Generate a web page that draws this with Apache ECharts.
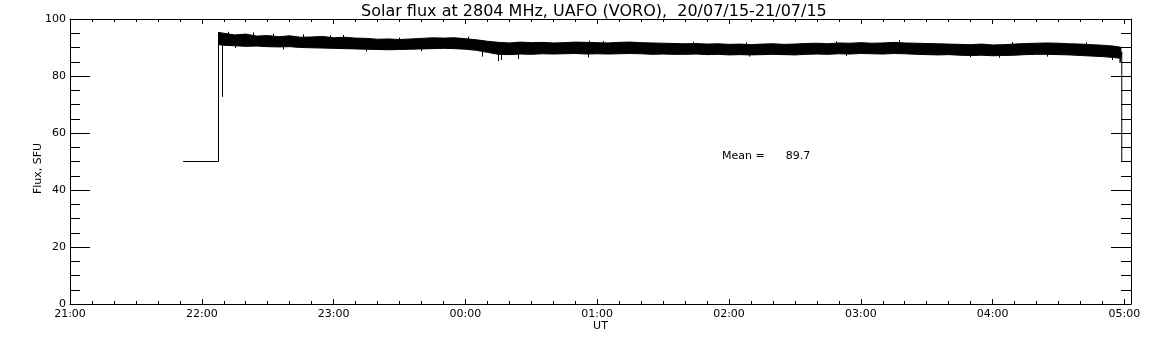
<!DOCTYPE html>
<html>
<head>
<meta charset="utf-8">
<script src="https://cdn.jsdelivr.net/npm/echarts@6/dist/echarts.min.js"></script>
<style>
  html, body { margin: 0; padding: 0; background: #fff; }
  #chart { width: 1152px; height: 345px; }
</style>
</head>
<body>
<div id="chart"></div>
<script>
// time is minutes after 21:00 UT
var traceTimes = [51.5, 67.6, 67.6];
var traceFlux  = [50, 50, 95.3];

var endTimes = [478.0, 478.0, 478.8, 478.8];
var endFlux  = [88.0, 84.7, 88.5, 50];

var bandTimes = [67.6, 70, 75, 80, 85, 90, 95, 100, 105, 110, 115, 120, 125, 130, 135, 140,
    145, 150, 155, 160, 165, 170, 175, 180, 185, 190, 195, 200, 205, 210, 215, 220, 225,
    230, 235, 240, 245, 250, 255, 260, 265, 270, 275, 280, 285, 290, 295, 300, 305, 310,
    315, 320, 325, 330, 335, 340, 345, 350, 355, 360, 365, 370, 375, 380, 385, 390, 395,
    400, 405, 410, 415, 420, 425, 430, 435, 440, 445, 450, 455, 460, 465, 470, 475, 478.4];
var bandUpper = [95.3, 95.0, 94.4, 94.7, 94.0, 94.2, 93.8, 94.1, 93.6, 93.7, 93.9, 93.4, 93.6,
    93.3, 93.2, 92.9, 93.0, 92.8, 93.0, 93.2, 93.4, 93.3, 93.4, 93.1, 92.7, 92.2, 91.8, 91.6,
    91.9, 91.7, 91.8, 91.6, 91.7, 91.9, 91.8, 91.7, 91.6, 91.8, 91.9, 91.7, 91.6, 91.5, 91.4,
    91.3, 91.4, 91.2, 91.3, 91.1, 91.2, 91.0, 91.2, 91.3, 91.1, 91.2, 91.4, 91.5, 91.3, 91.6,
    91.5, 91.7, 91.5, 91.6, 91.8, 91.6, 91.5, 91.4, 91.3, 91.2, 91.1, 91.0, 91.2, 90.9, 91.0,
    91.2, 91.4, 91.5, 91.6, 91.5, 91.3, 91.2, 91.0, 90.8, 90.5, 90.1];
var bandLower = [91.0, 90.8, 90.6, 90.4, 90.5, 90.3, 90.2, 90.3, 90.0, 89.9, 89.8, 89.7, 89.6,
    89.5, 89.4, 89.3, 89.2, 89.3, 89.4, 89.5, 89.6, 89.7, 89.6, 89.4, 89.0, 88.3, 87.6, 87.5,
    87.7, 87.6, 87.8, 87.7, 87.8, 87.9, 87.7, 87.8, 87.7, 87.8, 87.9, 87.8, 87.6, 87.7, 87.6,
    87.6, 87.7, 87.5, 87.6, 87.4, 87.5, 87.4, 87.5, 87.6, 87.5, 87.4, 87.6, 87.7, 87.6, 87.8,
    87.7, 87.9, 87.8, 87.7, 87.9, 87.8, 87.6, 87.5, 87.4, 87.5, 87.3, 87.2, 87.3, 87.1, 87.2,
    87.3, 87.5, 87.6, 87.6, 87.5, 87.4, 87.2, 87.0, 86.8, 86.5, 86.2];

// single-sample glitches sticking out of the band
var spikeTimes = [69.1, 187.5, 195.0, 196.5, 204.0, 236.0, 377.5, 410, 445,
    72.0, 83.4, 92.5, 106.2, 118.3, 124.4, 150.1, 181.2, 236.6, 242.6, 283.5, 307.9, 348.8, 429.0, 462.6,
    75, 97, 135, 160, 309.4, 353.4, 423.1, 474.5];
var spikeFrom  = [91.0, 89.0, 88.5, 88.5, 88.5, 88.0, 91.5, 88.0, 88.0,
    94.0, 94.0, 93.8, 93.5, 93.4, 93.4, 92.6, 92.8, 91.6, 91.5, 91.2, 91.0, 91.4, 91.0, 91.0,
    90.8, 90.3, 89.5, 89.6, 87.6, 87.8, 87.3, 86.7];
var spikeTo    = [72.7, 86.8, 85.2, 85.6, 85.9, 86.5, 92.6, 86.6, 86.8,
    95.5, 95.3, 94.8, 94.6, 94.3, 94.4, 93.5, 93.8, 92.4, 92.3, 92.0, 91.8, 92.2, 91.9, 91.8,
    89.8, 89.3, 88.6, 88.7, 86.8, 87.0, 86.4, 85.6];

var yTicks = [0, 20, 40, 60, 80, 100];
var hourLabels = ['21:00', '22:00', '23:00', '00:00', '01:00', '02:00', '03:00', '04:00', '05:00'];

var titleText = 'Solar flux at 2804 MHz, UAFO (VORO),  20/07/15-21/07/15';
var meanText = 'Mean =      89.7';

var FONT = 'DejaVu Sans';

function pairs(xs, ys) {
    var out = [];
    for (var i = 0; i < xs.length; i++) {
        out.push([xs[i], ys[i]]);
    }
    return out;
}

function xAxisDef(pos, interval, tickLen, main) {
    return {
        type: 'value',
        position: pos,
        min: 0,
        max: 483,
        interval: interval,
        splitLine: { show: false },
        axisLine: { show: main, onZero: false, lineStyle: { color: '#000', width: 1 } },
        axisTick: { show: true, inside: true, length: tickLen, lineStyle: { color: '#000', width: 1 } },
        axisLabel: { show: false }
    };
}

function yAxisDef(pos) {
    return {
        type: 'value',
        position: pos,
        min: 0,
        max: 100,
        interval: 20,
        splitLine: { show: false },
        axisLine: { show: true, onZero: false, lineStyle: { color: '#000', width: 1 } },
        axisTick: { show: true, inside: true, length: 20, lineStyle: { color: '#000', width: 1 } },
        minorTick: { show: true, splitNumber: 4, length: 10, lineStyle: { color: '#000', width: 1 } },
        axisLabel: { show: false }
    };
}

var xBottom = xAxisDef('bottom', 60, 5, true);
xBottom.axisLabel = {
    show: true,
    margin: 5,
    color: '#000',
    fontFamily: FONT,
    fontSize: 11,
    formatter: function (v) {
        if (v % 60 !== 0) return '';
        return hourLabels[v / 60] || '';
    }
};
xBottom.name = 'UT';
xBottom.nameLocation = 'middle';
xBottom.nameGap = 17;
xBottom.nameMoveOverlap = false;
xBottom.nameTextStyle = { color: '#000', fontFamily: FONT, fontSize: 11 };

var yLeft = yAxisDef('left');
yLeft.axisLabel = {
    show: true,
    margin: 4,
    color: '#000',
    fontFamily: FONT,
    fontSize: 11,
    formatter: function (v) {
        return yTicks.indexOf(v) >= 0 ? String(v) : '';
    }
};
yLeft.name = 'Flux, SFU';
yLeft.nameLocation = 'middle';
yLeft.nameGap = 26;
yLeft.nameMoveOverlap = false;
yLeft.nameTextStyle = { color: '#000', fontFamily: FONT, fontSize: 11, padding: [0, 14, 0, 0] };

var spikeLines = [];
for (var i = 0; i < spikeTimes.length; i++) {
    spikeLines.push([{ coord: [spikeTimes[i], spikeFrom[i]] }, { coord: [spikeTimes[i], spikeTo[i]] }]);
}

var lineStyle = { color: '#000', width: 1 };

// noisy band drawn as one filled polygon between the upper and lower envelopes
function renderBand(params, api) {
    var pts = [];
    for (var k = 0; k < bandTimes.length; k++) {
        pts.push(api.coord([bandTimes[k], bandUpper[k]]));
    }
    for (var m = bandTimes.length - 1; m >= 0; m--) {
        pts.push(api.coord([bandTimes[m], bandLower[m]]));
    }
    return {
        type: 'polygon',
        shape: { points: pts },
        style: { fill: '#000', stroke: '#000', lineWidth: 1 }
    };
}

var option = {
    animation: false,
    backgroundColor: '#fff',
    textStyle: { fontFamily: FONT },
    title: {
        text: titleText,
        left: 356,
        top: -1,
        textStyle: { color: '#000', fontFamily: FONT, fontSize: 16, fontWeight: 'normal' }
    },
    grid: { left: 70, right: 21, top: 19, bottom: 41, containLabel: false },
    xAxis: [
        xBottom,
        xAxisDef('bottom', 10, 3, false),
        xAxisDef('top', 60, 5, true),
        xAxisDef('top', 10, 3, false)
    ],
    yAxis: [yLeft, yAxisDef('right')],
    graphic: [{
        type: 'text',
        left: 722,
        top: 151,
        style: { text: meanText, fill: '#000', font: '11px "DejaVu Sans"' }
    }],
    series: [
        {
            type: 'custom',
            renderItem: renderBand,
            data: [[bandTimes[0], bandUpper[0]]],
            encode: { x: 0, y: 1 }
        },
        {
            type: 'line',
            data: pairs(traceTimes, traceFlux),
            symbol: 'none',
            lineStyle: lineStyle,
            markLine: {
                silent: true,
                symbol: 'none',
                label: { show: false },
                lineStyle: { color: '#000', width: 1, type: 'solid' },
                data: spikeLines
            }
        },
        {
            type: 'line',
            data: pairs(endTimes, endFlux),
            symbol: 'none',
            lineStyle: lineStyle
        }
    ]
};

var chart = echarts.init(document.getElementById('chart'), null, { renderer: 'canvas' });
chart.setOption(option);
</script>
</body>
</html>
